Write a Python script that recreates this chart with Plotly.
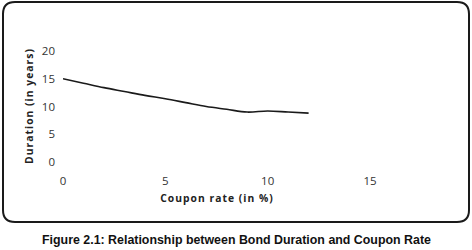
import plotly.graph_objects as go

coupon_rate = [0, 1, 2, 3, 4, 5, 6, 7, 8, 9, 10, 11, 12]
duration = [15.0, 14.2, 13.4, 12.7, 12.0, 11.4, 10.7, 10.0, 9.5, 9.0, 9.2, 9.0, 8.8]
x_ticks = [0, 5, 10, 15]
y_ticks = [0, 5, 10, 15, 20]

W, H = 472, 250
L, R, T, B = 63, 370, 51, 162

def px(x):
    return (x - L) / (R - L)

def py(y):
    return (B - y) / (B - T)

def spaced(s, sep="\u200a"):
    return sep.join(s)

fig = go.Figure()
fig.add_trace(go.Scatter(x=coupon_rate, y=duration, mode="lines",
                         line=dict(color="#1a1a1a", width=1.6), line_shape="spline"))

# rounded frame
x0, x1, y0, y1, r = 3, 469, 2, 222, 12
path = (f"M {px(x0+r)} {py(y0)} L {px(x1-r)} {py(y0)} Q {px(x1)} {py(y0)} {px(x1)} {py(y0+r)} "
        f"L {px(x1)} {py(y1-r)} Q {px(x1)} {py(y1)} {px(x1-r)} {py(y1)} "
        f"L {px(x0+r)} {py(y1)} Q {px(x0)} {py(y1)} {px(x0)} {py(y1-r)} "
        f"L {px(x0)} {py(y0+r)} Q {px(x0)} {py(y0)} {px(x0+r)} {py(y0)} Z")
fig.add_shape(type="path", path=path, xref="paper", yref="paper",
              line=dict(color="#1a1a1a", width=2))

fig.add_annotation(text="<b>Figure 2.1: Relationship between Bond Duration and Coupon Rate</b>",
                   x=px(236), y=py(240), xref="paper", yref="paper", showarrow=False,
                   font=dict(family="Liberation Sans", size=12.4, color="#111"),
                   xanchor="center", yanchor="middle")

tickfont = dict(family="Open Sans", size=11.5, color="#333")
fig.update_layout(
    width=W, height=H,
    margin=dict(l=L, r=W - R, t=T, b=H - B, pad=0),
    paper_bgcolor="white", plot_bgcolor="white",
    showlegend=False,
    xaxis=dict(range=[0, 15], tickvals=x_ticks, showgrid=False, zeroline=False,
               showline=False, tickfont=tickfont, ticklabelstandoff=10,
               title=dict(text="<b>" + spaced("Coupon rate (in %)") + "</b>", standoff=8,
                          font=dict(family="Open Sans", size=10.3, color="#222"))),
    yaxis=dict(range=[0, 20], tickvals=y_ticks, showgrid=False, zeroline=False,
               showline=False, tickfont=tickfont, ticklabelstandoff=7,
               title=dict(text="<b>" + spaced("Duration (in years)") + "</b>", standoff=6,
                          font=dict(family="Open Sans", size=10.3, color="#222"))),
)

fig.write_html("out.html")
